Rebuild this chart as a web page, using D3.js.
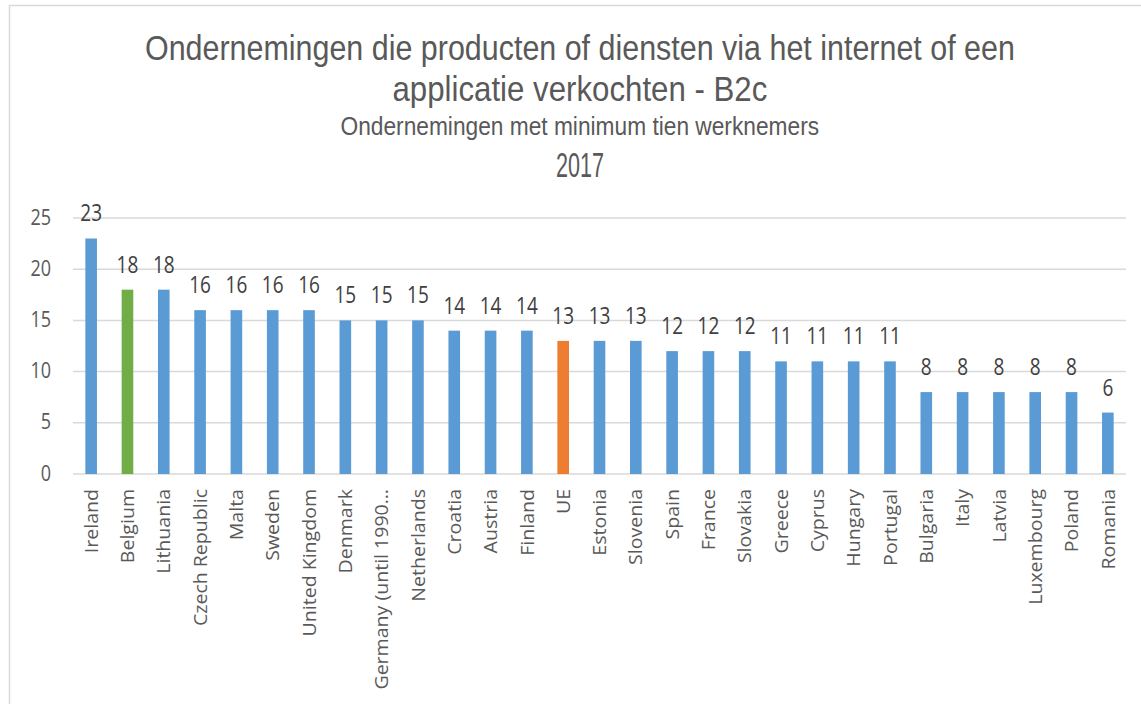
<!DOCTYPE html>
<html>
<head>
<meta charset="utf-8">
<script src="https://cdn.jsdelivr.net/npm/d3@7"></script>
<style>
    body { margin: 0; background: #fff; }
    text { font-family: "Open Sans", sans-serif; }
    .title { font-family: "Liberation Sans", Arial, sans-serif; fill: #595959; }
</style>
</head>
<body>
<div id="chart"></div>
<script>
// data
const countries = ["Ireland", "Belgium", "Lithuania", "Czech Republic", "Malta", "Sweden", "United Kingdom",
    "Denmark", "Germany (until 1990\u2026", "Netherlands", "Croatia", "Austria", "Finland", "UE", "Estonia",
    "Slovenia", "Spain", "France", "Slovakia", "Greece", "Cyprus", "Hungary", "Portugal", "Bulgaria",
    "Italy", "Latvia", "Luxembourg", "Poland", "Romania"];
const values = [23, 18, 18, 16, 16, 16, 16, 15, 15, 15, 14, 14, 14, 13, 13, 13, 12, 12, 12, 11, 11, 11, 11,
    8, 8, 8, 8, 8, 6];
const yTicks = [0, 5, 10, 15, 20, 25];
const titleLines = ["Ondernemingen die producten of diensten via het internet of een",
    "applicatie verkochten - B2c"];
const subtitle = "Ondernemingen met minimum tien werknemers";
const year = "2017";

const colorFor = name => name === "Belgium" ? "#70AD47" : name === "UE" ? "#ED7D31" : "#5B9BD5";

const width = 1141, height = 704;
// the reference picture is stretched vertically, glyphs are taller than wide
const stretch = 1.2;

let svg = d3.select("#chart").append("svg")
    .attr("width", width)
    .attr("height", height);

// outer chart border
svg.append("rect")
    .attr("x", 9.5).attr("y", 5.5)
    .attr("width", 1140).attr("height", 720)
    .attr("fill", "none")
    .attr("stroke", "#D9D9D9")
    .attr("stroke-width", 1.5);

// titles: squeeze horizontally to the measured width
let titleSpec = [
    {text: titleLines[0], y: 60, size: 35, len: 870},
    {text: titleLines[1], y: 101, size: 35, len: 375},
    {text: subtitle, y: 135, size: 25, len: 479},
    {text: year, y: 177, size: 35, len: 48}
];
titleSpec.forEach(t => {
    let txt = svg.append("text")
        .attr("class", "title")
        .attr("font-size", t.size)
        .text(t.text);
    let natural = txt.node().getComputedTextLength();
    let sx = t.len / natural;
    txt.attr("transform", `translate(${580 - t.len / 2}, ${t.y}) scale(${sx}, 1)`);
});

// scales
let x = d3.scaleBand()
    .domain(countries)
    .range([73, 1126])
    .paddingInner(0.68)
    .paddingOuter(0.34);

let y = d3.scaleLinear()
    .domain([0, 25])
    .range([474, 218]);

// gridlines
svg.append("g")
    .selectAll("line")
    .data(yTicks)
    .join("line")
    .attr("x1", 73)
    .attr("x2", 1126)
    .attr("y1", d => y(d))
    .attr("y2", d => y(d))
    .attr("stroke", "#D9D9D9")
    .attr("stroke-width", 1.5);

// y axis labels
let yAxis = d3.axisLeft(y).tickValues(yTicks).tickSize(0).tickPadding(0);
let yAxisGroup = svg.append("g")
    .attr("transform", "translate(51, 0)")
    .call(yAxis);
yAxisGroup.select(".domain").remove();
yAxisGroup.selectAll("text")
    .attr("font-family", "Open Sans, sans-serif")
    .attr("font-size", 18)
    .attr("fill", "#595959")
    .attr("x", 0)
    .attr("dy", null)
    .attr("y", 0)
    .attr("transform", `translate(0, 6) scale(1, ${stretch})`);

// bars
svg.append("g")
    .selectAll("rect")
    .data(countries)
    .join("rect")
    .attr("x", d => x(d))
    .attr("width", x.bandwidth())
    .attr("y", (d, i) => y(values[i]))
    .attr("height", (d, i) => y(0) - y(values[i]))
    .attr("fill", d => colorFor(d));

// value labels
svg.append("g")
    .selectAll("text")
    .data(countries)
    .join("text")
    .attr("text-anchor", "middle")
    .attr("font-size", 19)
    .attr("fill", "#404040")
    .attr("transform", (d, i) =>
        `translate(${x(d) + x.bandwidth() / 2}, ${y(values[i]) - 17}) scale(1, ${stretch})`)
    .text((d, i) => values[i]);

// category labels
let xAxis = d3.axisBottom(x).tickSize(0).tickPadding(0);
let xAxisGroup = svg.append("g")
    .attr("transform", "translate(0, 474)")
    .call(xAxis);
xAxisGroup.select(".domain").remove();
xAxisGroup.selectAll("text")
    .attr("font-family", "Open Sans, sans-serif")
    .attr("font-size", 19)
    .attr("fill", "#595959")
    .attr("text-anchor", "end")
    .attr("dy", "0.35em")
    .attr("transform", "translate(0, 15) rotate(-90) scale(1.03, 1)")
    .attr("y", 0)
    .attr("x", 0);
</script>
</body>
</html>
